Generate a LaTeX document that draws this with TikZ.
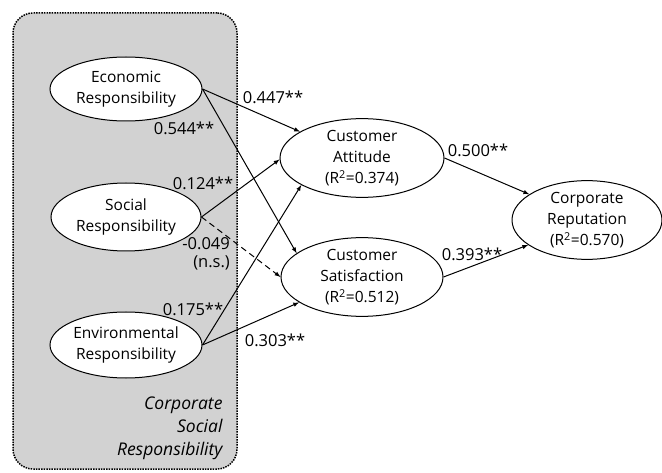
\documentclass[tikz,border=0pt]{standalone}
\usepackage{fontspec}
\setmainfont{Open Sans}
\usetikzlibrary{arrows,shapes.geometric}
\usetikzlibrary{positioning}
\begin{document}
\begin{tikzpicture}[x=1pt,y=1pt,
  construct/.style={ellipse,draw=black,fill=white,line width=1pt,inner sep=0pt,align=center,font=\fontsize{15.5}{21}\selectfont},
  coef/.style={font=\fontsize{16.5}{18}\selectfont,inner sep=1pt},
  link/.style={-latex,line width=1pt}]
\useasboundingbox (0,0) rectangle (662,472);
\node[rectangle,rounded corners=20pt,draw=black,dash pattern=on 1.5pt off 1.1pt,line width=1.5pt,fill=gray!35,minimum width=224pt,minimum height=456pt](csr) at (125,231){};
\node[align=right,anchor=east,font=\itshape\fontsize{17.5}{23}\selectfont](csrname) at (226,44){Corporate\\Social\\Responsibility};
\node[construct,minimum width=152pt,minimum height=64pt](eco) at (126,383){Economic\\Responsibility};
\node[construct,minimum width=150pt,minimum height=68pt,below of=eco,node distance=128pt](soc){Social\\Responsibility};
\node[construct,minimum width=152pt,minimum height=66pt,below of=soc,node distance=128pt](env){Environmental\\Responsibility};
\node[construct,minimum width=164pt,minimum height=68pt](att) at (362,314){Customer\\Attitude\\(R\textsuperscript{2}=0.374)};
\node[construct,minimum width=162pt,minimum height=68pt,below of=att,node distance=119pt](sat){Customer\\Satisfaction\\(R\textsuperscript{2}=0.512)};
\node[construct,minimum width=150pt,minimum height=66pt](rep) at (587,252){Corporate\\Reputation\\(R\textsuperscript{2}=0.570)};
\draw[link] (eco.east) -- (att.157);
\draw[link] (eco.east) -- (sat.160);
\draw[link] (soc.east) -- (att.181);
\draw[link,dash pattern=on 6pt off 4pt] (soc.east) -- (sat.west);
\draw[link] (env.east) -- (att.204);
\draw[link] (env.east) -- (sat.202);
\draw[link] (att.east) -- (rep.156);
\draw[link] (sat.east) -- (rep.203);
\node[coef](c447) at (273,375){0.447**};
\node[coef](c544) at (184,344){0.544**};
\node[coef](c124) at (203,289){0.124**};
\node[coef,align=right,anchor=east](c049) at (231,218){-0.049\\(n.s.)};
\node[coef](c175) at (193,163){0.175**};
\node[coef](c303) at (275,132){0.303**};
\node[coef](c500) at (478,322){0.500**};
\node[coef](c393) at (472,218){0.393**};
\end{tikzpicture}
\end{document}
